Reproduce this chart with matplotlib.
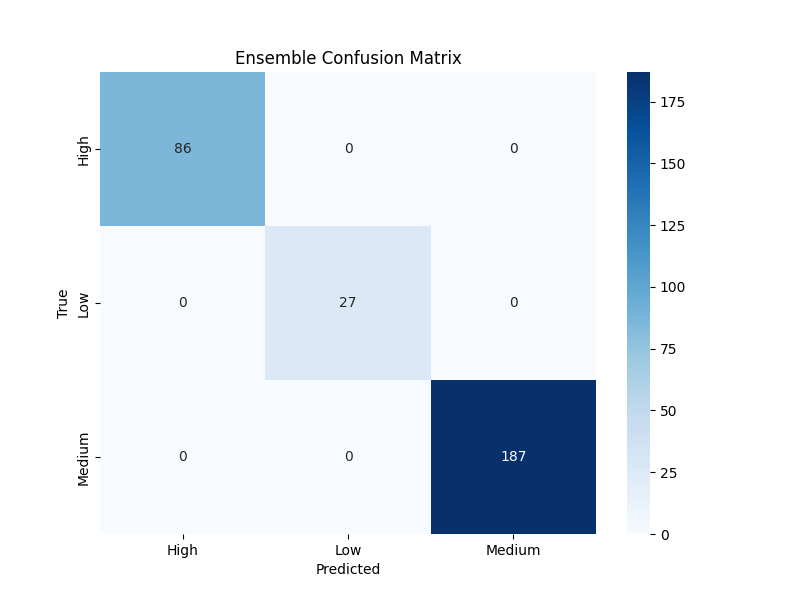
import matplotlib
matplotlib.use("Agg")
import matplotlib.pyplot as plt
import seaborn as sns
import numpy as np

labels = ["High", "Low", "Medium"]
row_high = [86, 0, 0]
row_low = [0, 27, 0]
row_medium = [0, 0, 187]

cm = np.array([row_high, row_low, row_medium])

fig = plt.figure(figsize=(8, 6), dpi=100)
ax = sns.heatmap(cm, annot=True, fmt="d", cmap="Blues",
                 xticklabels=labels, yticklabels=labels)
ax.set_title("Ensemble Confusion Matrix")
ax.set_xlabel("Predicted")
ax.set_ylabel("True")
fig.savefig("out.png", dpi=100)
